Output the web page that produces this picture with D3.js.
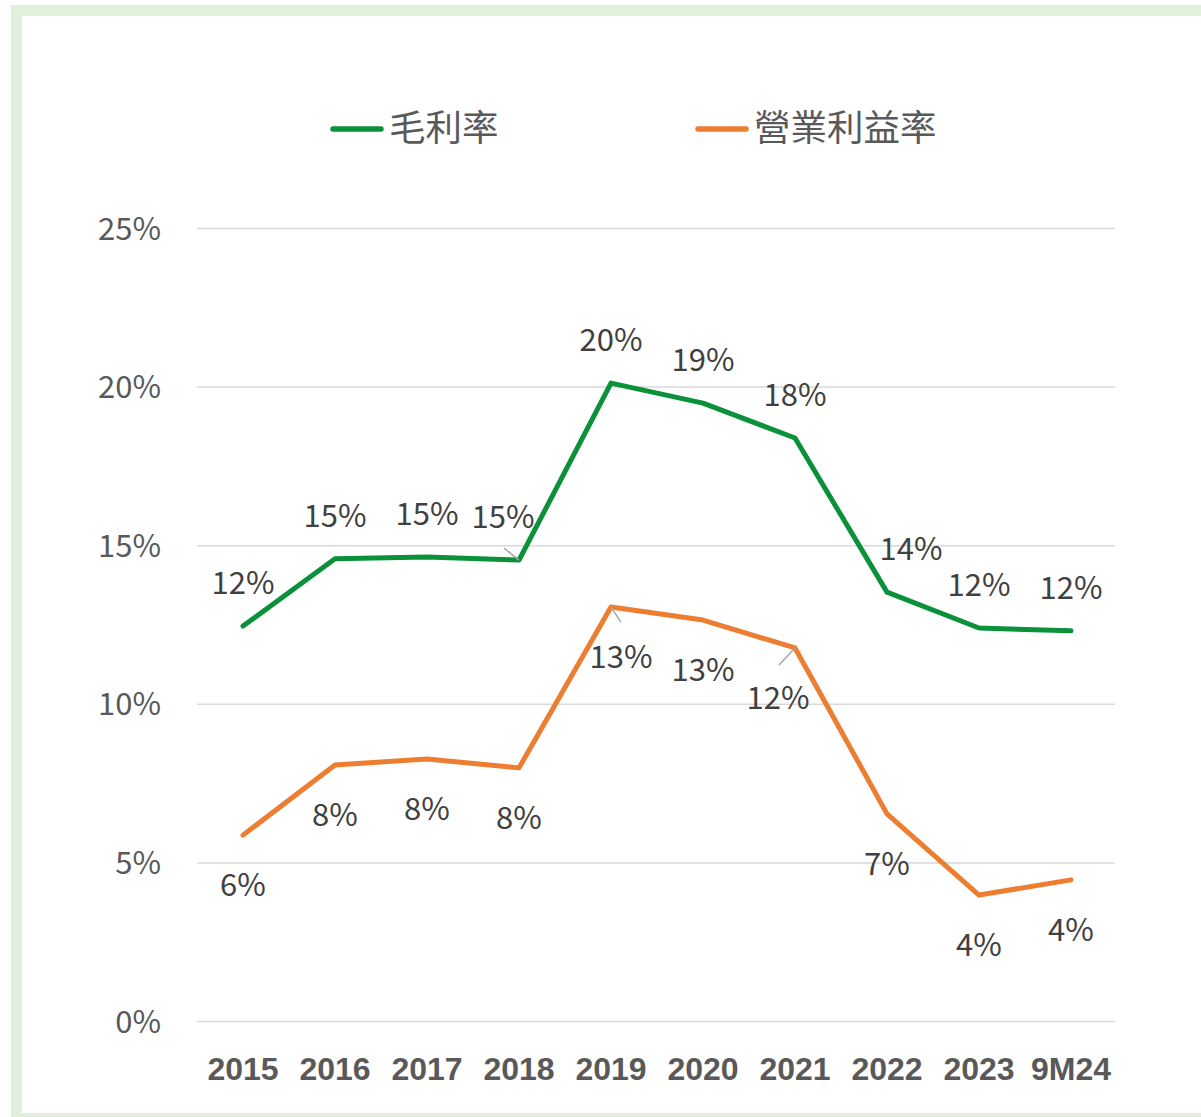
<!DOCTYPE html>
<html>
<head>
<meta charset="utf-8">
<script src="https://cdn.jsdelivr.net/npm/d3@7"></script>
<style>
    body { margin: 0; background: #fff; }
    svg { display: block; }
</style>
</head>
<body>
<div id="chart"></div>
<script>
'use strict';

// Data
const years = ['2015', '2016', '2017', '2018', '2019', '2020', '2021', '2022', '2023', '9M24'];
const grossMargin = [12.45, 14.57, 14.63, 14.53, 20.11, 19.48, 18.38, 13.52, 12.39, 12.30];
const opMargin = [5.86, 8.07, 8.26, 7.98, 13.05, 12.64, 11.76, 6.53, 3.97, 4.45];
const seriesNames = ['毛利率', '營業利益率'];
const yTicks = [0, 5, 10, 15, 20, 25];

// Label nudges (layout only)
const grossLabelDx = [0, 0, 0, -16, 0, 0, 0, 24, 0, 0];
const opLabelDx = [0, 0, 0, 0, 10, 0, -17, 0, 0, 0];
// leader lines: [index, dx, dy] from the point
const grossLeaders = [[3, -15, -12]];
const opLeaders = [[4, 10, 15], [6, -16, 17]];

// Config
const w = 1201;
const h = 1117;
const green = '#0b913a';
const orange = '#ed7d31';
const cjk = '"Noto Sans CJK TC", "Noto Sans", sans-serif';

const svg = d3.select('#chart')
    .append('svg')
    .attr('width', w)
    .attr('height', h);

// Frame
svg.append('rect')
    .attr('x', 16.5)
    .attr('y', 10.5)
    .attr('width', 1210)
    .attr('height', 1108)
    .attr('fill', '#fff')
    .attr('stroke', '#e2efda')
    .attr('stroke-width', 11);

// Scales
const xScale = d3.scaleBand()
    .domain(years)
    .range([197, 1117]);

const yScale = d3.scaleLinear()
    .domain([0, 25])
    .range([1021, 228]);

const xc = d => xScale(d) + xScale.bandwidth() / 2;

// Grid
const yAxis = d3.axisLeft(yScale)
    .tickValues(yTicks)
    .tickSize(-(1115 - 197))
    .tickPadding(36)
    .tickFormat(d => d + '%');

const yG = svg.append('g')
    .attr('transform', 'translate(197,0)')
    .call(yAxis);
yG.select('.domain').remove();
yG.selectAll('.tick line')
    .attr('stroke', '#d9d9d9')
    .attr('stroke-width', 1.5);
yG.selectAll('.tick text')
    .attr('fill', '#595959')
    .attr('font-family', cjk)
    .attr('font-size', 31)
    .attr('dy', 11)
    .attr('dominant-baseline', 'auto');

// X labels
const xAxis = d3.axisBottom(xScale).tickSize(0).tickPadding(0);
const xG = svg.append('g')
    .attr('transform', 'translate(0,1021)')
    .call(xAxis);
xG.select('.domain').remove();
xG.selectAll('.tick text')
    .attr('fill', '#595959')
    .attr('font-family', '"Liberation Sans", Arial, sans-serif')
    .attr('font-weight', 'bold')
    .attr('font-size', 32)
    .attr('y', 59)
    .attr('dy', 0);

// Lines
const lineMaker = d3.line()
    .x((d, i) => xc(years[i]))
    .y(d => yScale(d));

const series = [
    {name: seriesNames[0], values: grossMargin, color: green, labelDy: -32, labelDx: grossLabelDx, leaders: grossLeaders},
    {name: seriesNames[1], values: opMargin, color: orange, labelDy: 61, labelDx: opLabelDx, leaders: opLeaders}
];

series.forEach(s => {
    svg.append('path')
        .datum(s.values)
        .attr('d', lineMaker)
        .attr('fill', 'none')
        .attr('stroke', s.color)
        .attr('stroke-width', 5)
        .attr('stroke-linejoin', 'round')
        .attr('stroke-linecap', 'round');

    // Leaders
    svg.selectAll(null)
        .data(s.leaders)
        .enter()
        .append('line')
        .attr('x1', d => xc(years[d[0]]))
        .attr('y1', d => yScale(s.values[d[0]]))
        .attr('x2', d => xc(years[d[0]]) + d[1])
        .attr('y2', d => yScale(s.values[d[0]]) + d[2])
        .attr('stroke', '#a6a6a6')
        .attr('stroke-width', 1.5);

    // Labels
    svg.selectAll(null)
        .data(s.values)
        .enter()
        .append('text')
        .attr('x', (d, i) => xc(years[i]) + s.labelDx[i])
        .attr('y', d => yScale(d) + s.labelDy)
        .attr('text-anchor', 'middle')
        .attr('fill', '#404040')
        .attr('font-family', cjk)
        .attr('font-size', 31)
        .text(d => Math.round(d) + '%');
});

// Legend
const legend = [
    {name: seriesNames[0], color: green, x: 333},
    {name: seriesNames[1], color: orange, x: 698}
];
const legG = svg.append('g');
legend.forEach(l => {
    legG.append('line')
        .attr('x1', l.x)
        .attr('x2', l.x + 48)
        .attr('y1', 129)
        .attr('y2', 129)
        .attr('stroke', l.color)
        .attr('stroke-width', 5.5)
        .attr('stroke-linecap', 'round');
    legG.append('text')
        .attr('x', l.x + 56)
        .attr('y', 141)
        .attr('fill', '#595959')
        .attr('font-family', cjk)
        .attr('font-size', 36.5)
        .text(l.name);
});
</script>
</body>
</html>
